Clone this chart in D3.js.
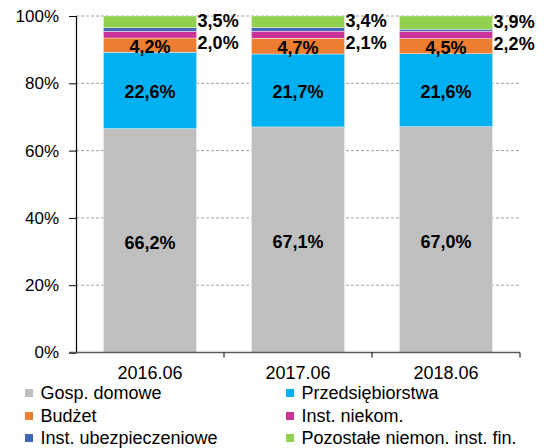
<!DOCTYPE html>
<html>
<head>
<meta charset="utf-8">
<script src="https://cdn.jsdelivr.net/npm/d3@7"></script>
<style>
  body { margin: 0; background: #fff; }
  svg { display: block; font-family: Arial, "Liberation Sans", sans-serif; }
</style>
</head>
<body>
<svg id="chart" width="553" height="448"></svg>
<script>
const categories = ["2016.06", "2017.06", "2018.06"];
const seriesNames = ["Gosp. domowe", "Przedsiębiorstwa", "Budżet", "Inst. niekom.", "Inst. ubezpieczeniowe", "Pozostałe niemon. inst. fin."];
const seriesColors = ["#BFBFBF", "#00B0F0", "#ED7D31", "#CC3399", "#4168B4", "#92D050"];
const gospDomowe = [66.2, 67.1, 67.0];
const przedsiebiorstwa = [22.6, 21.7, 21.6];
const budzet = [4.2, 4.7, 4.5];
const instNiekom = [2.0, 2.1, 2.2];
const instUbezp = [1.0, 1.1, 0.6];
const pozostale = [3.5, 3.4, 3.9];
const yTicks = [0, 0.2, 0.4, 0.6, 0.8, 1.0];

const seriesValues = [gospDomowe, przedsiebiorstwa, budzet, instNiekom, instUbezp, pozostale];
const rows = categories.map((c, i) => {
  const r = { cat: c };
  seriesNames.forEach((s, j) => r[s] = seriesValues[j][i]);
  return r;
});
const fmt = v => v.toFixed(1).replace(".", ",") + "%";

const svg = d3.select("#chart");
const mLeft = 76, mRight = 520, mTop = 16, mBottom = 352.5;

const x = d3.scaleBand().domain(categories).range([mLeft, mRight]).padding(0);
const y = d3.scaleLinear().domain([0, 1]).range([mBottom, mTop]);
const barW = x.bandwidth() * 0.63;

const stack = d3.stack().keys(seriesNames).offset(d3.stackOffsetExpand);
const stacked = stack(rows);

// gridlines
svg.append("g").selectAll("line").data(yTicks.filter(t => t > 0)).join("line")
  .attr("x1", mLeft).attr("x2", mRight)
  .attr("y1", d => y(d)).attr("y2", d => y(d))
  .attr("stroke", "#A0A0A0").attr("stroke-width", 1).attr("stroke-dasharray", "3,2");

// bars
const layers = svg.append("g").selectAll("g").data(stacked).join("g")
  .attr("fill", (d, i) => seriesColors[i]);
layers.selectAll("rect").data(d => d).join("rect")
  .attr("x", d => x(d.data.cat) + (x.bandwidth() - barW) / 2)
  .attr("width", barW)
  .attr("y", d => y(d[1]))
  .attr("height", d => y(d[0]) - y(d[1]))
  .attr("stroke", "#ffffff").attr("stroke-width", 0.4);

// y axis
const yAxis = svg.append("g").attr("transform", `translate(${mLeft},0)`)
  .call(d3.axisLeft(y).tickValues(yTicks).tickFormat(d => Math.round(d * 100) + "%").tickSize(7).tickPadding(10));
yAxis.select(".domain").attr("stroke", "#000").attr("stroke-width", 1.2);
yAxis.selectAll(".tick line").attr("stroke", "#000");
yAxis.selectAll("text").attr("font-size", 17).attr("fill", "#000").style("font-family", "Arial, 'Liberation Sans', sans-serif");

// x axis
const xAxisG = svg.append("g");
xAxisG.append("line").attr("x1", mLeft - 7).attr("x2", mRight).attr("y1", mBottom).attr("y2", mBottom)
  .attr("stroke", "#595959").attr("stroke-width", 1.6);
const bounds = categories.map(c => x(c)).concat([x(categories[categories.length - 1]) + x.bandwidth()]);
xAxisG.selectAll("line.tk").data(bounds.slice(1)).join("line").attr("class", "tk")
  .attr("x1", d => d).attr("x2", d => d).attr("y1", mBottom).attr("y2", mBottom + 5)
  .attr("stroke", "#000").attr("stroke-width", 1);
xAxisG.selectAll("text").data(categories).join("text")
  .attr("x", d => x(d) + x.bandwidth() / 2).attr("y", 373)
  .attr("text-anchor", "middle").attr("dominant-baseline", "central")
  .attr("font-size", 18).attr("fill", "#000").text(d => d);

// inside labels (first three series)
const insideIdx = [0, 1, 2];
insideIdx.forEach(si => {
  svg.append("g").selectAll("text").data(stacked[si]).join("text")
    .attr("x", d => x(d.data.cat) + x.bandwidth() / 2)
    .attr("y", d => (y(d[0]) + y(d[1])) / 2 + 2)
    .attr("text-anchor", "middle").attr("dominant-baseline", "central")
    .attr("font-size", 18).attr("font-weight", "bold").attr("fill", "#000")
    .text((d, i) => fmt(seriesValues[si][i]));
});

// outside labels: green (top line) and magenta (second line)
const green = stacked[5];
svg.append("g").selectAll("text").data(green).join("text")
  .attr("x", d => x(d.data.cat) + (x.bandwidth() + barW) / 2 + 1)
  .attr("y", d => (y(d[0]) + y(d[1])) / 2 - 0.5)
  .attr("dominant-baseline", "central")
  .attr("font-size", 18).attr("font-weight", "bold").attr("fill", "#000")
  .text((d, i) => fmt(pozostale[i]));
svg.append("g").selectAll("text").data(green).join("text")
  .attr("x", d => x(d.data.cat) + (x.bandwidth() + barW) / 2 + 1)
  .attr("y", d => (y(d[0]) + y(d[1])) / 2 + 21)
  .attr("dominant-baseline", "central")
  .attr("font-size", 18).attr("font-weight", "bold").attr("fill", "#000")
  .text((d, i) => fmt(instNiekom[i]));

// legend
const legend = svg.append("g");
const colX = [25, 286], rowY = [393, 416, 438];
seriesNames.forEach((s, i) => {
  const cx = colX[i % 2], cy = rowY[Math.floor(i / 2)];
  legend.append("rect").attr("x", cx).attr("y", cy - 4).attr("width", 8).attr("height", 8).attr("fill", seriesColors[i]);
  legend.append("text").attr("x", cx + 15.5).attr("y", cy).attr("dominant-baseline", "central")
    .attr("font-size", 18).attr("fill", "#000").text(s);
});
</script>
</body>
</html>
